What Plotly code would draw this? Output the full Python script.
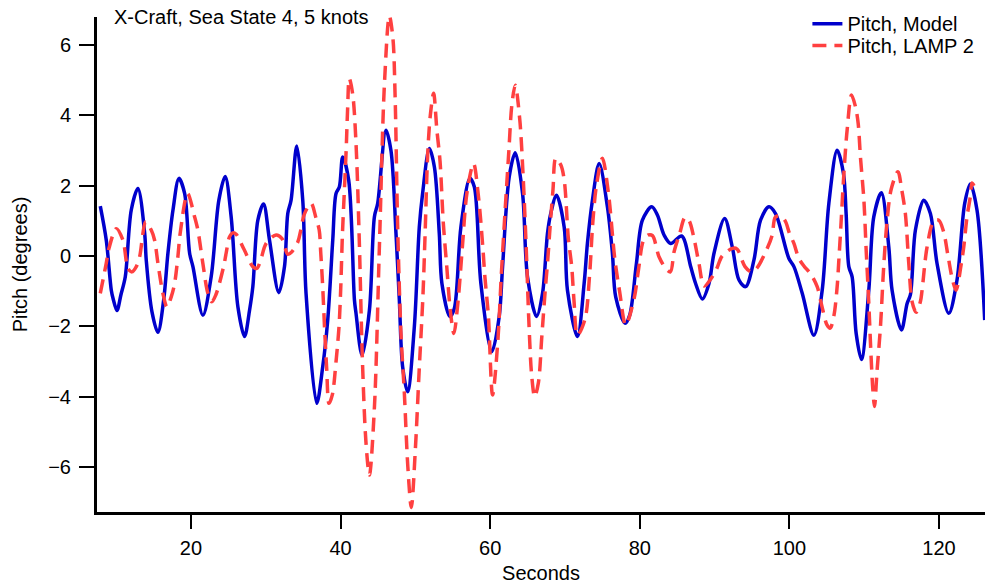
import plotly.graph_objects as go

# ---- data ----
model_t = [7.89, 8.69, 9.36, 9.59, 10.12, 10.65, 11.23, 12.03, 12.92, 13.82, 14.03, 14.79, 15.59,
           16.36, 16.93, 17.6, 18.4, 19.16, 19.83, 20.27, 21.6, 22.71, 23.74, 24.58, 25.38, 26.28,
           27.17, 27.84, 28.28, 28.95, 29.71, 30.51, 31.75, 32.51, 32.95, 33.39, 34.15, 34.95, 35.39,
           36.82, 37.62, 38.29, 38.96, 39.4, 39.85, 40.29, 41.09, 41.86, 42.07, 42.87, 43.86, 44.53,
           44.97, 46.07, 46.74, 47.41, 47.86, 48.3, 48.97, 49.87, 50.53, 50.97, 51.87, 52.54, 53.2,
           53.55, 54.62, 55.21, 56.09, 57.29, 57.88, 58.76, 60.23, 61.21, 61.66, 62.55, 63.35, 64.33,
           64.99, 66.2, 67.0, 67.66, 68.1, 68.87, 69.89, 70.33, 71.67, 72.56, 73.0, 73.67, 74.57,
           75.67, 76.34, 76.78, 78.04, 78.65, 79.55, 80.35, 81.59, 82.35, 83.24, 84.13, 85.6, 86.8,
           87.46, 88.36, 89.25, 89.92, 91.34, 92.36, 93.26, 94.14, 95.26, 96.14, 97.26, 98.14, 99.93,
           100.6, 101.71, 103.27, 104.38, 105.27, 106.38, 107.22, 107.58, 107.94, 108.38, 108.92,
           109.63, 110.61, 111.28, 112.29, 113.28, 113.72, 114.97, 115.73, 116.17, 116.84, 117.96,
           118.84, 119.73, 121.3, 122.4, 123.43, 124.18, 125.07, 126.1]
model_v = [1.42, 0.45, -0.97, -1.2, -1.55, -1.1, -0.59, 1.31, 1.92, 0.65, -0.11, -1.58, -2.17,
           -1.25, 0.08, 1.3, 2.21, 1.78, 0.08, -0.3, -1.68, -0.59, 1.59, 2.26, 1.12, -1.44,
           -2.29, -1.54, -0.87, 1.02, 1.48, 0.45, -1.04, -0.3, 1.21, 1.59, 3.13, 1.59, -1.06,
           -4.19, -3.15, -1.82, 0.45, 1.78, 1.97, 2.82, 2.16, -1.25, -1.63, -2.82, -1.54, 1.12,
           1.5, 3.58, 3.0, 0.65, -1.25, -3.15, -3.86, -2.0, 0.83, 1.78, 3.06, 2.54, 0.64,
           -0.78, -1.72, -1.49, 0.83, 2.21, 1.97, -0.78, -2.72, -1.72, -0.3, 2.26, 2.94, 1.78,
           -0.59, -1.72, -1.06, 0.64, 1.21, 1.73, 0.83, -0.97, -2.29, -0.78, 0.36, 1.59, 2.63,
           1.4, 0.08, -1.16, -1.91, -1.68, -0.21, 1.02, 1.40, 1.17, 0.6, 0.36, 0.57, -0.3,
           -0.78, -1.22, -0.78, 0.08, 1.07, 0.26, -0.68, -0.87, -0.11, 1.02, 1.40, 1.21, -0.07,
           -0.3, -1.06, -2.25, -0.97, 1.5, 3.01, 2.35, 1.2, -0.3, -0.59, -2.2,
           -2.94, -0.97, 1.12, 1.80, 0.26, -0.97, -2.10, -1.35, -1.1, 0.74, 1.59,
           1.21, -0.21, -1.63, -0.68, 1.5, 2.05, 1.31, -1.82]

lamp_t = [7.89, 8.69, 9.05, 10.03, 10.92, 11.59, 12.12, 12.7, 13.15, 13.59, 13.95, 14.7, 15.15,
          15.59, 16.26, 16.8, 17.37, 17.82, 18.26, 18.57, 19.56, 20.49, 20.93, 21.6, 22.27, 22.8,
          23.34, 24.37, 24.71, 25.17, 25.61, 26.05, 27.08, 28.28, 28.81, 29.35, 30.05, 31.39, 32.15,
          32.95, 33.39, 34.29, 34.69, 35.18, 36.06, 36.7, 37.15, 37.36, 37.6, 37.9, 38.15, 38.46,
          38.9, 39.4, 39.8, 40.03, 40.25, 40.5, 40.75, 40.95, 41.17, 41.63, 42.07, 42.5, 42.93,
          43.4, 43.86, 44.53, 45.2, 45.87, 46.53, 47.0, 47.3, 47.64, 48.08, 48.53, 49.0, 49.46,
          50.0, 50.5, 51.0, 51.3, 51.65, 52.0, 52.44, 52.87, 53.3, 53.75, 54.2, 54.65, 55.15,
          55.7, 56.3, 56.9, 57.78, 58.43, 59.0, 59.3, 59.76, 60.32, 61.0, 61.5, 62.0, 62.5,
          62.9, 63.35, 63.95, 64.4, 64.77, 65.2, 65.55, 65.95, 66.45, 66.9, 67.35, 67.7, 68.0,
          68.4, 68.77, 69.45, 69.9, 70.45, 70.9, 71.2, 71.67, 72.67, 73.3, 73.7, 74.2, 75.0,
          75.8, 76.67, 77.3, 78.12, 79.25, 79.85, 80.5, 81.15, 81.7, 82.57, 83.46, 84.09, 84.58,
          85.33, 86.05, 86.6, 87.2, 87.9, 88.6, 89.65, 90.3, 91.0, 92.4, 93.0, 94.06, 94.9,
          95.62, 97.04, 97.7, 98.1, 98.7, 99.43, 100.0, 100.6, 101.27, 102.0, 102.82, 103.71,
          104.2, 104.47, 105.0, 105.45, 105.94, 106.38, 106.61, 106.82, 107.28, 107.72, 108.3,
          108.83, 109.19, 109.49, 109.95, 110.25, 110.6, 110.9, 111.15, 111.37, 111.7, 112.17,
          112.6, 113.06, 113.6, 114.5, 115.0, 115.5, 115.95, 116.4, 116.93, 117.5, 117.73, 118.4,
          119.3, 119.96, 120.6, 121.2, 121.8, 122.27, 122.98, 123.3, 123.74, 124.18, 124.4, 124.67]
lamp_v = [-1.06, -0.2, 0.22, 0.78, 0.45, -0.35, -0.45, -0.3, -0.02, 0.65, 0.98, 0.74, 0.45,
          -0.2, -1.06, -1.45, -1.16, -0.78, -0.02, 0.65, 1.78, 1.12, 0.74, -0.21, -1.06, -1.3,
          -1.1, -0.3, 0.08, 0.55, 0.66, 0.62, 0.2, -0.3, -0.35, -0.1, 0.36, 0.6, 0.5,
          0.05, 0.1, 0.4, 0.74, 1.2, 1.5, 1.1, 0.74, 0.08, -0.8, -2.2, -3.2, -4.19,
          -3.95, -3.0, -2.0, -0.9, 0.6, 1.8, 3.0, 4.2, 5.05, 4.6, 3.2, 0.5, -3.0,
          -5.3, -6.23, -4.3, 0.3, 4.9, 6.83, 6.2, 4.5, 0.8, -2.2, -3.9, -6.0, -7.15,
          -5.5, -3.3, -1.2, 0.6, 2.9, 4.0, 4.63, 3.6, 2.7, 0.9, -0.3, -1.5, -2.2,
          -1.3, 0.3, 1.8, 2.63, 1.7, 0.3, -0.6, -1.7, -3.95, -2.5, -0.5, 1.3, 3.0,
          4.3, 4.86, 3.9, 2.3, 0.5, -2.0, -3.4, -4.0, -3.6, -2.3, -1.0, -0.1, 0.8,
          1.9, 2.78, 2.59, 2.16, 0.5, -0.3, -1.25, -2.25, -1.8, -0.5, 0.9, 2.0, 2.78,
          1.8, -0.1, -1.0, -1.96, -1.2, -0.35, 0.45, 0.6, 0.58, -0.02, -0.35, -0.45, 0.12,
          0.64, 1.1, 1.0, 0.55, -0.2, -0.85, -0.6, -0.35, 0.0, 0.22, 0.2, -0.3, -0.45,
          -0.35, 0.22, 0.6, 1.1, 1.15, 1.0, 0.65, 0.36, -0.07, -0.3, -0.5, -0.87,
          -1.3, -1.54, -1.95, -2.05, -1.7, -0.87, -0.1, 0.64, 2.35, 3.6, 4.58,
          4.25, 3.77, 2.82, 1.6, 0.2, -1.3, -2.8, -3.8, -4.28, -3.3, -2.0,
          -0.3, 1.02, 1.9, 2.4, 1.9, 1.2, -0.2, -1.3, -1.6, -1.3, -0.97, 0.26,
          1.0, 1.02, 0.7, 0.0, -0.68, -0.97, -0.2, 0.26, 1.12, 1.69, 2.08, 2.0]

x_ticks = [20, 40, 60, 80, 100, 120]
y_ticks = [-6, -4, -2, 0, 2, 4, 6]

FONT = "Liberation Sans, Arial, sans-serif"

fig = go.Figure()
fig.add_trace(go.Scatter(x=model_t, y=model_v, mode="lines", name="Pitch, Model",
                         legend="legend", showlegend=True,
                         line=dict(color="#0000CC", width=3.5, shape="spline", smoothing=0.9)))
fig.add_trace(go.Scatter(x=lamp_t, y=lamp_v, mode="lines", name="Pitch, LAMP 2",
                         legend="legend2", showlegend=True,
                         line=dict(color="#FF4040", width=3.5, dash="14px,8px",
                                   shape="spline", smoothing=0.9)))

axis_common = dict(showline=True, linecolor="black", linewidth=3, ticks="outside",
                   tickcolor="black", tickwidth=2, showgrid=False, zeroline=False,
                   tickfont=dict(family=FONT, size=20, color="black"))

legend_common = dict(xanchor="left", yanchor="top", bgcolor="rgba(0,0,0,0)",
                     font=dict(family=FONT, size=20, color="black"), borderwidth=0)

fig.update_layout(
    width=985, height=585,
    showlegend=True,
    margin=dict(l=97, r=0, t=17, b=73),
    paper_bgcolor="white", plot_bgcolor="white",
    font=dict(family=FONT, size=20, color="black"),
    xaxis=dict(range=[7.45, 126.14], tickvals=x_ticks, ticklen=14, ticklabelstandoff=2,
               title=dict(text="Seconds", font=dict(family=FONT, size=20), standoff=8),
               **axis_common),
    yaxis=dict(range=[-7.28, 6.8], tickvals=y_ticks, ticklen=15, ticklabelstandoff=4,
               title=dict(text="Pitch (degrees)", font=dict(family=FONT, size=20), standoff=16),
               **axis_common),
    legend=dict(x=0.80, y=1.026, **legend_common),
    legend2=dict(x=0.80, y=0.982, **legend_common),
    annotations=[dict(text="X-Craft, Sea State 4, 5 knots", xref="paper", yref="paper",
                      x=0.017, y=1.0, xanchor="left", yanchor="middle", showarrow=False,
                      font=dict(family=FONT, size=20, color="black"))],
)

fig.write_html("out.html")
